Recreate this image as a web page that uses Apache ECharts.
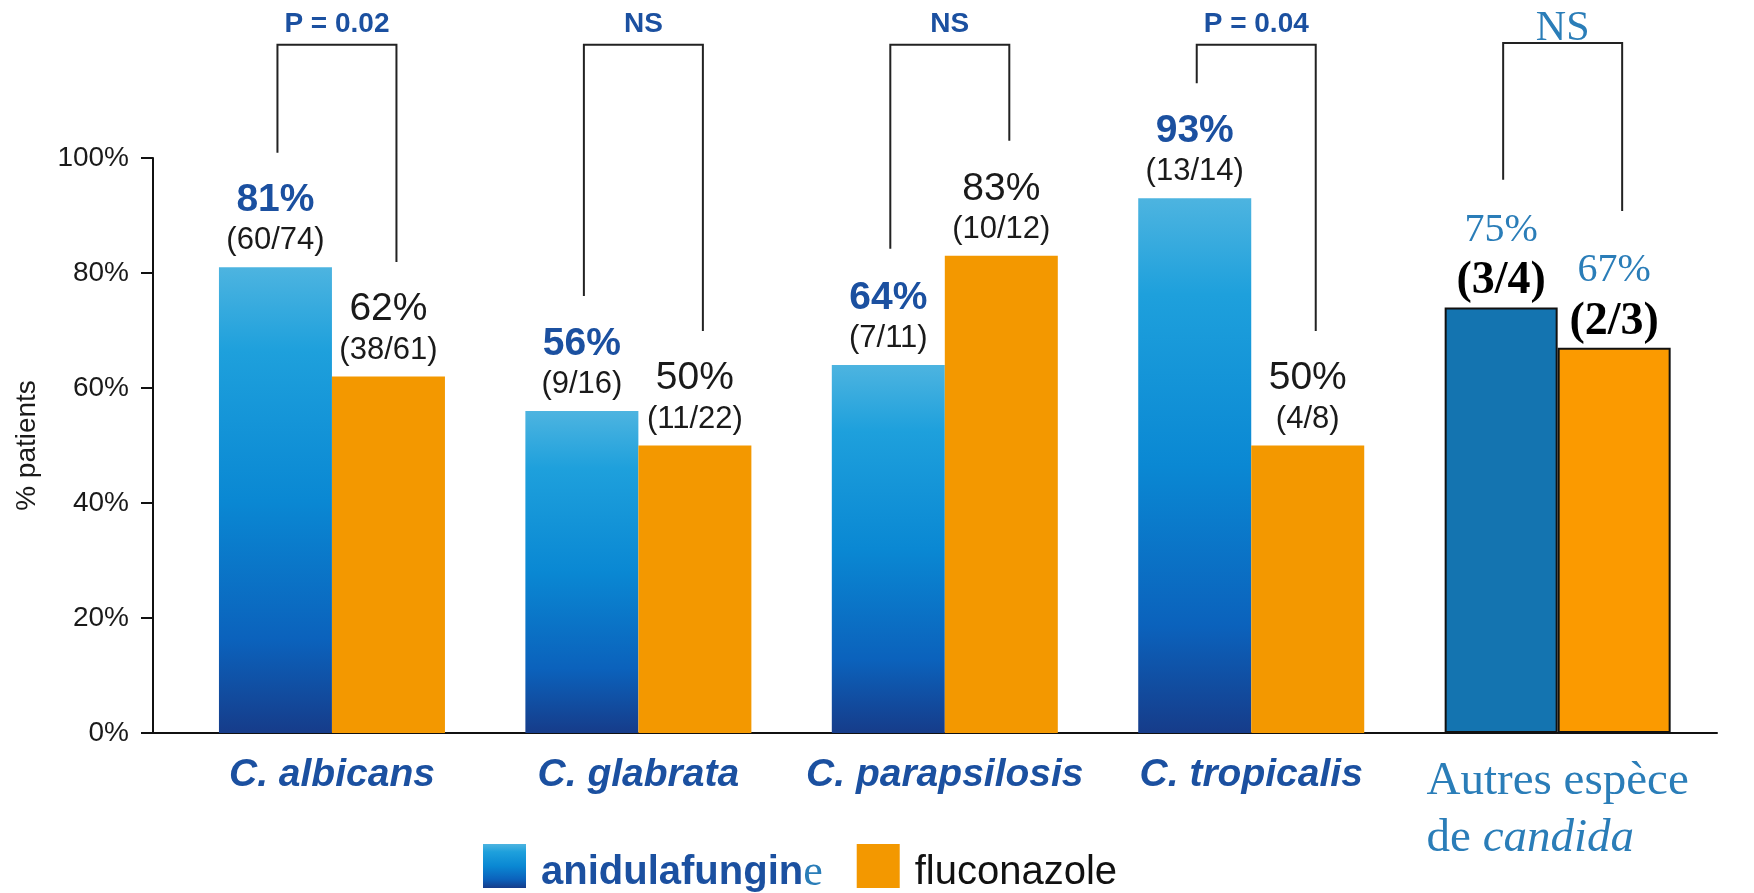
<!DOCTYPE html>
<html>
<head>
<meta charset="utf-8">
<title>anidulafungine vs fluconazole</title>
<script src="https://cdn.jsdelivr.net/npm/echarts@6/dist/echarts.min.js"></script>
<style>
  html, body { margin: 0; padding: 0; background: #fff; }
  #chart { width: 1754px; height: 893px; }
</style>
</head>
<body>
<div id="chart"></div>
<script>
// categories (espèces), positions 0..4 on x
var categories = ['C. albicans', 'C. glabrata', 'C. parapsilosis', 'C. tropicalis', 'Autres espèce de candida'];
var seriesNames = ['anidulafungine', 'fluconazole'];

// % de patients
var anidulaValues = [81, 56, 64, 93, 74];
var flucoValues = [62, 50, 83, 50, 67];
var anidulaPct = ['81%', '56%', '64%', '93%', '75%'];
var flucoPct = ['62%', '50%', '83%', '50%', '67%'];
var anidulaFrac = ['(60/74)', '(9/16)', '(7/11)', '(13/14)', '(3/4)'];
var flucoFrac = ['(38/61)', '(11/22)', '(10/12)', '(4/8)', '(2/3)'];

// comparaisons : jambe gauche, jambe droite, barre du haut (en %)
var pLabels = ['P = 0.02', 'NS', 'NS', 'P = 0.04', 'NS'];
var pLeft = [100.9, 76, 84.2, 113, 96.2];
var pRight = [81.9, 69.9, 103, 69.9, 90.8];
var pTop = [119.7, 119.7, 119.7, 119.7, 120];

var yTicks = [0, 20, 40, 60, 80, 100];

var OTHER = 4; // la dernière espèce a un autre style
var BAR_W = 113;
var SANS = 'Liberation Sans, Arial, Helvetica, sans-serif';
var SERIF = 'Liberation Serif, Times New Roman, serif';
var BLUE_TXT = '#1b50a0';
var BLUE_SERIF = '#2a7db8';

var myChart = echarts.init(document.getElementById('chart'));

var blueGrad = new echarts.graphic.LinearGradient(0, 0, 0, 1, [
    { offset: 0, color: '#4db4e0' },
    { offset: 0.18, color: '#1ea0dc' },
    { offset: 0.5, color: '#0a88d3' },
    { offset: 0.8, color: '#0b62bc' },
    { offset: 1, color: '#163c8a' }
]);

function barData(values, pct, frac, other) {
    return values.map(function (v, i) {
        var item = { value: [i, v], pct: pct[i], frac: frac[i] };
        if (i === OTHER) {
            item.itemStyle = { color: other, borderColor: '#111', borderWidth: 2 };
            item.label = {
                distance: 2,
                formatter: function (p) { return '{sp|' + p.data.pct + '}\n{sf|' + p.data.frac + '}'; }
            };
        }
        return item;
    });
}

var richLabels = {
    pb: { fontFamily: SANS, fontSize: 39, fontWeight: 'bold', color: BLUE_TXT, lineHeight: 44 },
    po: { fontFamily: SANS, fontSize: 39, color: '#1a1a1a', lineHeight: 44 },
    f: { fontFamily: SANS, fontSize: 31, color: '#1a1a1a', lineHeight: 37 },
    sp: { fontFamily: SERIF, fontSize: 40, color: BLUE_SERIF, lineHeight: 54 },
    sf: { fontFamily: SERIF, fontSize: 46, fontWeight: 'bold', color: '#000', lineHeight: 48 }
};

var option = {
    animation: false,
    grid: { left: 153, right: 37, top: 158, bottom: 160 },
    legend: {
        data: seriesNames,
        left: 478,
        top: 839,
        icon: 'rect',
        itemWidth: 43,
        itemHeight: 44,
        itemGap: 34,
        formatter: function (name) {
            return name === 'anidulafungine' ? '{b|anidulafungin}{e|e}' : '{n|fluconazole}';
        },
        textStyle: {
            rich: {
                b: { fontFamily: SANS, fontSize: 40, fontWeight: 'bold', color: BLUE_TXT, padding: [14, 0, 0, 10] },
                e: { fontFamily: SERIF, fontSize: 44, color: BLUE_SERIF, padding: [14, 0, 0, 0] },
                n: { fontFamily: SANS, fontSize: 40, color: '#111', padding: [14, 0, 0, 10] }
            }
        }
    },
    xAxis: {
        type: 'value',
        min: -0.584,
        max: 4.52,
        axisLine: { show: true, onZero: false, lineStyle: { color: '#111', width: 2 } },
        axisTick: { show: false },
        splitLine: { show: false },
        axisLabel: {
            customValues: [0, 1, 2, 3, 4],
            margin: 20,
            formatter: function (v) {
                var i = Math.round(v);
                if (i === OTHER) return '{o|Autres espèce}\n{o|de }{oi|candida}';
                return '{c|' + categories[i] + '}';
            },
            rich: {
                c: { fontFamily: SANS, fontSize: 39, fontWeight: 'bold', fontStyle: 'italic', color: BLUE_TXT, lineHeight: 44 },
                o: { fontFamily: SERIF, fontSize: 47, color: BLUE_SERIF, lineHeight: 57, align: 'left' },
                oi: { fontFamily: SERIF, fontSize: 47, fontStyle: 'italic', color: BLUE_SERIF, lineHeight: 57, align: 'left' }
            }
        }
    },
    yAxis: {
        type: 'value',
        min: 0,
        max: 100,
        interval: 20,
        name: '% patients',
        nameLocation: 'middle',
        nameRotate: 90,
        nameGap: 112,
        nameTextStyle: { fontFamily: SANS, fontSize: 28, color: '#1a1a1a' },
        axisLine: { show: true, onZero: false, lineStyle: { color: '#111', width: 2 } },
        axisTick: { show: true, inside: false, length: 12, lineStyle: { color: '#111', width: 2 } },
        splitLine: { show: false },
        axisLabel: {
            margin: 24,
            fontFamily: SANS,
            fontSize: 28,
            color: '#1a1a1a',
            customValues: yTicks,
            formatter: '{value}%'
        }
    },
    series: [
        {
            name: seriesNames[0],
            type: 'bar',
            barWidth: BAR_W,
            barGap: '0%',
            itemStyle: { color: blueGrad },
            label: {
                show: true,
                position: 'top',
                distance: 8,
                formatter: function (p) { return '{pb|' + p.data.pct + '}\n{f|' + p.data.frac + '}'; },
                rich: richLabels
            },
            data: barData(anidulaValues, anidulaPct, anidulaFrac, '#1474b0')
        },
        {
            name: seriesNames[1],
            type: 'bar',
            barWidth: BAR_W,
            barGap: '0%',
            itemStyle: { color: '#f39800' },
            label: {
                show: true,
                position: 'top',
                distance: 8,
                formatter: function (p) { return '{po|' + p.data.pct + '}\n{f|' + p.data.frac + '}'; },
                rich: richLabels
            },
            data: barData(flucoValues, flucoPct, flucoFrac, '#fb9a00')
        },
        {
            // crochets de comparaison
            type: 'custom',
            clip: false,
            silent: true,
            data: pLabels.map(function (t, i) { return [i, pLeft[i], pRight[i], pTop[i]]; }),
            renderItem: function (params, api) {
                var i = params.dataIndex;
                var x = api.value(0);
                var top = api.coord([x, api.value(3)]);
                var yl = api.coord([x, api.value(1)])[1];
                var yr = api.coord([x, api.value(2)])[1];
                var xl = top[0] - BAR_W / 2 + 2;
                var xr = top[0] + BAR_W / 2 + 8;
                var other = i === OTHER;
                return {
                    type: 'group',
                    children: [
                        {
                            type: 'polyline',
                            shape: { points: [[xl, yl], [xl, top[1]], [xr, top[1]], [xr, yr]] },
                            style: { stroke: '#222', lineWidth: 2, fill: null }
                        },
                        {
                            type: 'text',
                            style: {
                                text: pLabels[i],
                                x: (xl + xr) / 2,
                                y: top[1] + (other ? 7 : -6),
                                align: 'center',
                                verticalAlign: 'bottom',
                                fontFamily: other ? SERIF : SANS,
                                fontSize: other ? 42 : 28,
                                fontWeight: other ? 'normal' : 'bold',
                                fill: other ? BLUE_SERIF : BLUE_TXT
                            }
                        }
                    ]
                };
            }
        }
    ]
};

myChart.setOption(option);
</script>
</body>
</html>
